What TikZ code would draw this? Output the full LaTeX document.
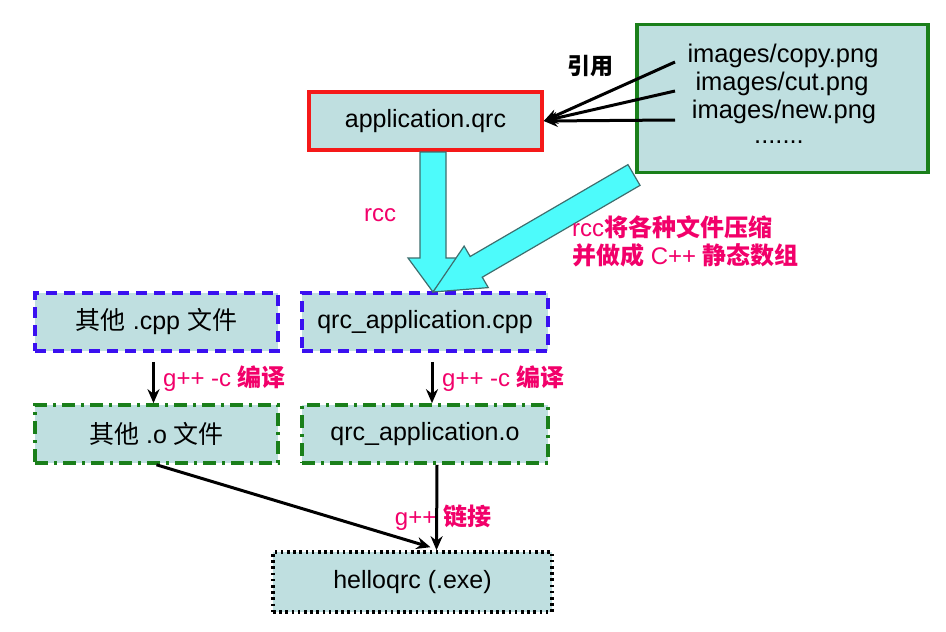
\documentclass[tikz,border=0pt]{standalone}
\usepackage{fontspec}
\setmainfont{Liberation Sans}
\newfontfamily\cjk{Noto Sans CJK SC}
\usetikzlibrary{arrows.meta,calc}
\definecolor{boxfill}{HTML}{BFDFE0}
\definecolor{pinklbl}{HTML}{F2006A}
\definecolor{bluedash}{HTML}{3A10F0}
\definecolor{greenln}{HTML}{1A7F1A}
\definecolor{cyanfill}{HTML}{4DFBFB}
\definecolor{cyanedge}{HTML}{3E6E6E}
\newcommand\fatarrow[5]{%
  \path let \p1=($(#1)!#3!(#2)$) in coordinate (fa@h) at (\p1);
  \filldraw[fill=cyanfill,draw=cyanedge,line width=1.2pt,line join=miter]
    (#1) -- ($(fa@h)!#4!90:(#2)$) -- ($(fa@h)!#5!90:(#2)$)
    -- ($(#2)!#5!-90:(fa@h)$) -- ($(#2)!#5!90:(fa@h)$)
    -- ($(fa@h)!#5!-90:(#2)$) -- ($(fa@h)!#4!-90:(#2)$) -- cycle;}
\begin{document}
\begin{tikzpicture}[x=1pt,y=-1pt,
  box/.style={draw, fill=boxfill, line width=3.6pt, inner sep=0pt,
    minimum width=243pt, minimum height=58pt,
    font=\fontsize{25}{29}\selectfont},
  redbox/.style={box, draw={rgb,255:red,245;green,25;blue,25}, minimum width=233pt},
  cppbox/.style={box, draw=bluedash, dash pattern=on 11pt off 7pt},
  objbox/.style={box, draw=greenln, dash pattern=on 13pt off 6pt on 3pt off 6pt},
  exebox/.style={box, draw=black, dash pattern=on 2.6pt off 3.6pt, minimum width=279pt, minimum height=60pt},
  resbox/.style={draw=greenln, fill=boxfill, line width=3.8pt, minimum width=291pt, minimum height=148pt},
  restext/.style={inner sep=0pt, font=\fontsize{25.5}{29}\selectfont},
  lbl/.style={inner sep=0pt, text=pinklbl, font=\fontsize{24}{28}\selectfont},
  blk/.style={line width=3pt, -{Stealth[length=14pt,width=12pt]}}]
\useasboundingbox[fill=white] (0,0) rectangle (946,632);

% resources box
\node[resbox] (res) at (782.5,98.5) {};
\node[restext] (t1) at (783,56) {images/copy.png};
\node[restext] (t2) at (782,84) {images/cut.png};
\node[restext] (t3) at (784,112) {images/new.png};
\node[restext] (t4) at (779,142) {.......};

% qrc box
\node[redbox] (app) at (425.5,121) {application.qrc};

% references
\coordinate (s1) at (675,62);
\coordinate (s2) at (675,91);
\coordinate (s3) at (675,120);
\draw[blk] (s1) -- (app.east);
\draw[blk] (s2) -- (app.east);
\draw[blk] (s3) -- (app.east);
\node[inner sep=0pt, font=\cjk\bfseries\fontsize{23}{27}\selectfont] (ref) at (590,66) {引用};

% source boxes
\node[cppbox] (ocpp) at (156.5,322) {{\cjk 其他} .cpp {\cjk 文件}};
\node[cppbox, minimum width=246pt] (qcpp) at (425,322) {qrc\_application.cpp};
\node[objbox] (oo) at (156.5,434) {{\cjk 其他} .o {\cjk 文件}};
\node[objbox, minimum width=246pt] (qo) at (425,434) {qrc\_application.o};
\node[exebox] (exe) at (412.5,582) {helloqrc (.exe)};

% fat cyan arrows
\coordinate (vt) at (433,292);
\coordinate (vs) at (433,152);
\fatarrow{vt}{vs}{34pt}{25pt}{13pt}
\coordinate (dt) at (433,292);
\coordinate (ds) at (634,175);
\fatarrow{dt}{ds}{50pt}{24pt}{12pt}

\node[lbl, anchor=west] (rcc) at (364,215) {rcc};
\node[lbl, anchor=north west, align=left, font=\fontsize{24}{28}\selectfont] (rcclong) at (572,215)
  {rcc{\cjk\bfseries 将各种文件压缩}\\{\cjk\bfseries 并做成} C++ {\cjk\bfseries 静态数组}};

% compile arrows
\draw[blk, shorten <=9pt] ([xshift=-3pt]ocpp.south) -- ([xshift=-3pt]oo.north);
\draw[blk, shorten <=9pt] ([xshift=7pt]qcpp.south) -- ([xshift=7pt]qo.north);
\node[lbl, anchor=west] (c1) at (163,379) {g++ -c {\cjk\bfseries 编译}};
\node[lbl, anchor=west] (c2) at (442,379) {g++ -c {\cjk\bfseries 编译}};

% link arrows
\node[lbl] (lnk) at (443,518) {g++ {\cjk\bfseries 链接}};
\draw[blk] (oo.south) -- ([xshift=18pt,yshift=3pt]exe.north);
\draw[blk] ([xshift=12pt]qo.south) -- ([xshift=24pt]exe.north);
\end{tikzpicture}
\end{document}
